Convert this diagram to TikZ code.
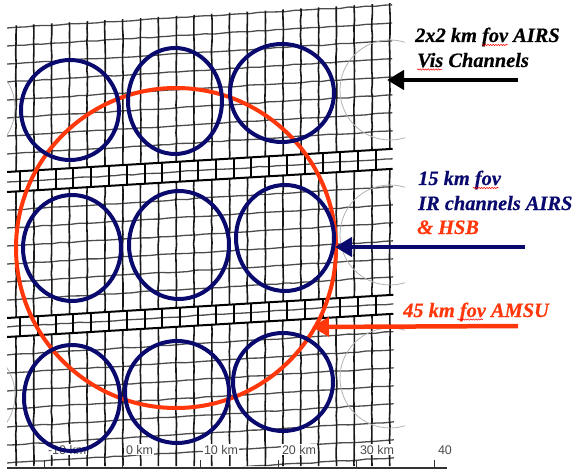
\documentclass[tikz,border=0pt]{standalone}
\usepackage{fontspec}
\setmainfont{Liberation Serif}
\newfontfamily\captfont{Liberation Serif Bold Italic}[FakeBold=0.5]
\newfontfamily\scanfont{Liberation Sans}
\usetikzlibrary{arrows.meta,decorations.pathmorphing}
\definecolor{navy}{RGB}{10,10,110}
\definecolor{amsu}{RGB}{255,55,10}

\begin{document}
\begin{tikzpicture}[x=1pt,y=-1pt,
  vline/.style={black!90,line width=1.6,decorate,decoration={random steps,segment length=7,amplitude=0.4}},
  hline/.style={black!70,line width=1.3,decorate,decoration={random steps,segment length=9,amplitude=0.5}},
  seam/.style={black,line width=2},
  ghost/.style={black!30,line width=0.8},
  fovB/.style={navy,line width=4},
  fovA/.style={amsu,line width=4},
  fleche/.style={line width=4.5,-{Triangle[length=17pt,width=19pt]}},
  txt/.style={font=\captfont\fontsize{20.4}{24}\selectfont,anchor=base west,inner sep=0},
  km/.style={font=\scanfont\fontsize{12.5}{14}\selectfont,text=black!70,fill=white,inner sep=0.8,anchor=base west},
  squig/.style={red,line width=0.5,decorate,decoration={snake,amplitude=0.7,segment length=2.6}}]

\useasboundingbox (0,0) rectangle (577,470);

% Grille
\begin{scope}
\clip (7,26) -- (392,3) -- (394,466) -- (7,466) -- cycle;

% bande du haut
\foreach \y in {28,46,...,154}
{
\draw[hline] (7,\y) -- (394,{\y-0.06*387});
}
\foreach \x in {16,33.8,...,391}
{
\draw[vline] (\x,0) -- (\x,{172-0.06*(\x-7)});
}

% bande du milieu
\foreach \y in {210,228,...,300}
{
\draw[hline] (7,\y) -- (394,{\y-0.06*387});
}
\foreach \x in {16,33.8,...,391}
{
\draw[vline] (\x,{192-0.06*(\x-7)}) -- (\x,{318-0.06*(\x-7)});
}

% bande du bas
\foreach \y in {355,373,...,481}
{
\draw[hline] (7,\y) -- (394,{\y-0.06*387});
}
\foreach \x in {16,33.8,...,391}
{
\draw[vline] (\x,{337-0.06*(\x-7)}) -- (\x,468);
}

% raccords
\foreach \y in {172,192,318,337}
{
\draw[seam] (7,\y) -- (394,{\y-0.06*387});
}
\foreach \y in {182,327}
{
\draw[hline] (7,\y) -- (394,{\y-0.06*387});
}
\foreach \x in {20,37.8,...,391}
{
\draw[seam] (\x,{172-0.06*(\x-7)}) -- (\x,{192-0.06*(\x-7)});
\draw[seam] (\x,{318-0.06*(\x-7)}) -- (\x,{337-0.06*(\x-7)});
}
\end{scope}

% Cercles voisins
\begin{scope}
\clip (7,0) rectangle (405,470);
\foreach \cy in {90,235,378}
{
\draw[ghost] (390,\cy) circle [radius=50];
}
\foreach \cy in {108,395}
{
\draw[ghost] (-35,\cy) circle [radius=50];
}
\end{scope}

% Axe
\draw[black!80,line width=1.5] (7,468) -- (447,468);
\foreach \x/\t in {44/-10 km,122/0 km,200/10 km,278/20 km,356/30 km,434/40}
{
\draw[black!80,line width=1] (\x,468) -- (\x,460);
\node[km] (tick\x) at ({\x+3},454) {\t};
}

% AMSU
\draw[fovA] (176,248) circle [radius=160];

% AIRS IR
\foreach \cx/\cy/\rx/\ry in {
70/110/49/50,175/101/47/53,282/93/52/49,
72/248/49/53,179/245/50/54,285/238/49/53,
72/398/48/53,177/392/52/51,283/382/50/49
}
{
\draw[fovB] (\cx,\cy) ellipse [x radius=\rx,y radius=\ry];
}

% Textes
\node[txt] (vis1) at (415,42) {2x2 km fov AIRS};
\node[txt] (vis2) at (417,67) {Vis Channels};
\node[txt,text=navy] (ir1) at (418,185) {15 km fov};
\node[txt,text=navy] (ir2) at (418,210) {IR channels AIRS};
\node[txt,text=amsu] (ir3) at (417,234) {\& HSB};
\node[txt,text=amsu] (amsu1) at (403,317) {45 km fov AMSU};

\draw[squig] (482,45) -- (508,45);
\draw[squig] (417,69.5) -- (442,69.5);
\draw[squig] (473,188) -- (499,188);
\draw[squig] (457,319.5) -- (483,319.5);

% Fleches
\coordinate (vistail) at (518,80);
\coordinate (vistip) at (387,80);
\coordinate (irtail) at (525,247);
\coordinate (irtip) at (335,247);
\coordinate (amsutail) at (518,326);
\coordinate (amsutip) at (312,327);

\draw[fleche,black] (vistail) -- (vistip);
\draw[fleche,navy] (irtail) -- (irtip);
\draw[fleche,amsu] (amsutail) -- (amsutip);

\end{tikzpicture}
\end{document}
